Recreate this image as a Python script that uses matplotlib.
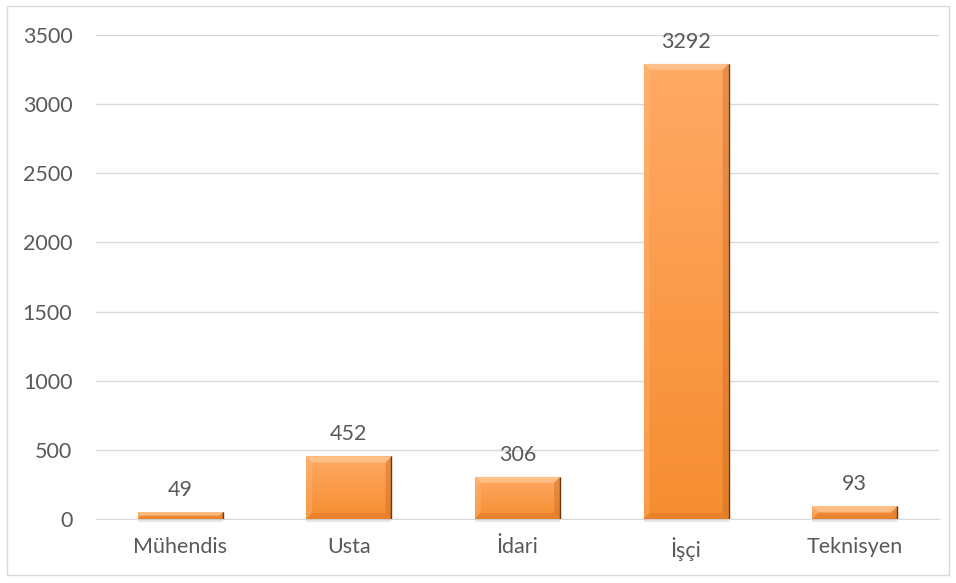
import matplotlib
matplotlib.use("Agg")
import matplotlib.pyplot as plt
import numpy as np
from matplotlib.patches import Rectangle, Polygon
from matplotlib.colors import LinearSegmentedColormap

categories = ["Mühendis", "Usta", "İdari", "İşçi", "Teknisyen"]
values = [49, 452, 306, 3292, 93]
yticks = [0, 500, 1000, 1500, 2000, 2500, 3000, 3500]

plt.rcParams['font.family'] = ['Lato', 'DejaVu Sans']
txt = '#595959'
fs = 15.5

fig = plt.figure(figsize=(9.56, 5.83), dpi=100)
ax_l, ax_r, ax_t, ax_b = 96, 939, 35, 519
ax = fig.add_axes([ax_l/956, 1 - ax_b/583, (ax_r-ax_l)/956, (ax_b-ax_t)/583])

fig.patches.append(Rectangle((7/956, 8/583), (949-7)/956, (577-8)/583, transform=fig.transFigure,
                             fill=False, edgecolor='#d9d9d9', linewidth=1))

x = np.arange(len(categories))
w = 0.505
ymax = 3500
bars = ax.bar(x, values, width=w, color='#F79646', edgecolor='none', zorder=3)

px_x = len(categories) / (ax_r - ax_l)
px_y = ymax / (ax_b - ax_t)

cmap = LinearSegmentedColormap.from_list('o', ['#F68D30', '#FFAA66'])
grad = np.linspace(0, 1, 256).reshape(-1, 1)
for b in bars:
    x0, y0 = b.get_x(), b.get_y()
    bw, bh = b.get_width(), b.get_height()
    x1, y1 = x0 + bw, y0 + bh
    im = ax.imshow(grad, extent=[x0, x1, y0, y1], origin='lower', aspect='auto',
                   cmap=cmap, zorder=3.5)
    im.set_clip_path(b)
    hpx = bh / px_y
    d = min(6, hpx / 2)
    dx, dy = d * px_x, d * px_y
    ax.add_patch(Polygon([(x0, y1), (x1, y1), (x1 - dx, y1 - dy), (x0 + dx, y1 - dy)],
                         closed=True, facecolor='#FFD6A8', edgecolor='none', alpha=0.55, zorder=3.6))
    ax.add_patch(Polygon([(x0, y0), (x0, y1), (x0 + dx, y1 - dy), (x0 + dx, y0 + dy)],
                         closed=True, facecolor='#FFC185', edgecolor='none', alpha=0.3, zorder=3.6))
    ax.add_patch(Polygon([(x0, y0), (x1, y0), (x1 - dx, y0 + dy), (x0 + dx, y0 + dy)],
                         closed=True, facecolor='#C9661E', edgecolor='none', alpha=0.3, zorder=3.6))
    ax.add_patch(Polygon([(x1, y0), (x1, y1), (x1 - dx, y1 - dy), (x1 - dx, y0 + dy)],
                         closed=True, facecolor='#C05E18', edgecolor='none', alpha=0.35, zorder=3.6))
    ax.plot([x1, x1], [y0, y1], color='#6b3510', linewidth=1.0, zorder=3.7, solid_capstyle='butt')
    ax.add_patch(Rectangle((x0, y0 - 3 * px_y), bw, 3 * px_y, facecolor='#bbbbbb',
                           edgecolor='none', alpha=0.35, zorder=2.9, clip_on=False))

for xi, v in zip(x, values):
    ax.text(xi, v + 12 * px_y, str(v), ha='center', va='bottom', fontsize=fs, color=txt)

ax.set_xlim(-0.5, len(categories) - 0.5)
ax.set_ylim(0, ymax)
ax.set_yticks(yticks)
ax.set_xticks(x)
ax.set_xticklabels(categories)
ax.tick_params(axis='both', length=0, labelsize=fs, colors=txt)
ax.tick_params(axis='y', pad=17)
ax.tick_params(axis='x', pad=13)
ax.yaxis.grid(True, color='#d9d9d9', linewidth=1, zorder=0)
ax.set_axisbelow(True)
for s in ['top', 'right', 'left']:
    ax.spines[s].set_visible(False)
ax.spines['bottom'].set_color('#d9d9d9')

fig.savefig('out.png', dpi=100)
